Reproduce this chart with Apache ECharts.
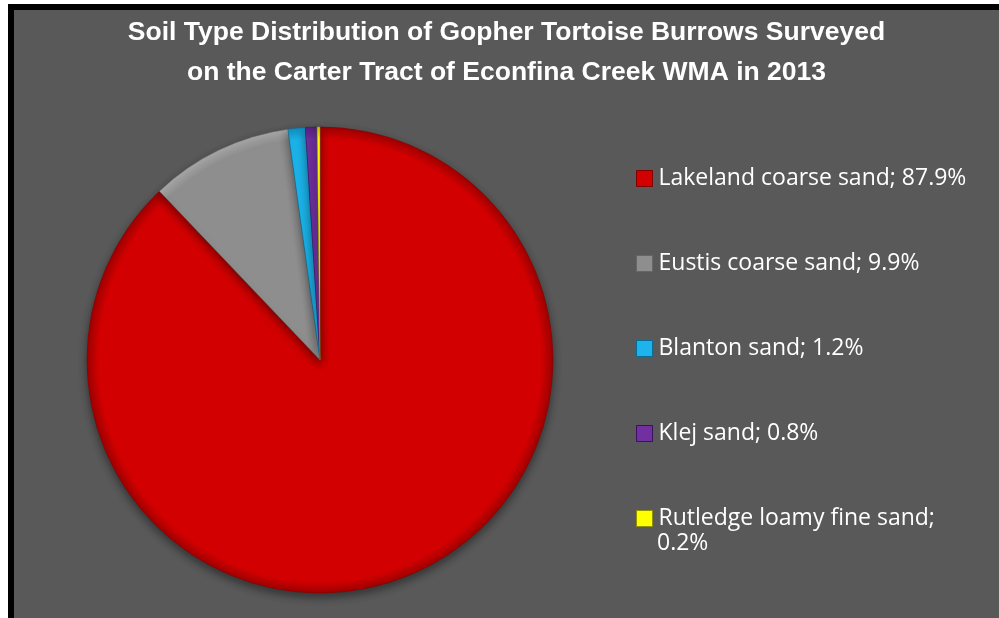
<!DOCTYPE html>
<html>
<head>
<meta charset="utf-8">
<script src="https://cdn.jsdelivr.net/npm/echarts@6/dist/echarts.min.js"></script>
<style>
html,body{margin:0;padding:0;background:#fff;}
#frame{position:absolute;left:8px;top:4px;width:991px;height:614px;background:#000;}
#chart{position:absolute;left:14px;top:10px;width:985px;height:608px;}
</style>
</head>
<body>
<div id="frame"></div>
<div id="chart"></div>
<script>
const titleLines = ['Soil Type Distribution of Gopher Tortoise Burrows Surveyed', 'on the Carter Tract of Econfina Creek WMA in 2013'];
const categories = ['Lakeland coarse sand', 'Eustis coarse sand', 'Blanton sand', 'Klej sand', 'Rutledge loamy fine sand'];
const percents = [87.9, 9.9, 1.2, 0.8, 0.2];
const colors = ['#d20000', '#8e8e8e', '#1cb4ea', '#7030a0', '#ffff00'];
const edgeColors = ['#a00000', '#a8a8a8', '#1090c0', '#552080', '#c0c000'];
const borderColors = ['#800000', '#666666', '#0a6a98', '#3a1060', '#909000'];

const OX = 14, OY = 10; // chart offset in page
const CX = 320, CY = 360, R = 233;
const legendTops = [175, 260, 345, 430, 515];

const chart = echarts.init(document.getElementById('chart'), null, {renderer: 'canvas'});

const legends = categories.map((c, i) => {
  const label = c + '; ' + percents[i].toFixed(1) + '%';
  const isLast = i === categories.length - 1;
  return {
    data: [c],
    orient: 'vertical',
    left: 636 - OX,
    top: legendTops[i] - 8 - OY,
    padding: 0,
    itemWidth: 16,
    itemHeight: 16,
    icon: 'rect',
    selectedMode: false,
    itemStyle: {color: colors[i], borderWidth: 1, borderColor: borderColors[i], shadowBlur: 0, shadowOffsetY: 0},
    formatter: () => isLast ? c + ';' : label,
    textStyle: {color: '#ffffff', fontFamily: 'Open Sans', fontSize: 23, padding: [0, 0, 0, 1]}
  };
});

const option = {
  backgroundColor: '#595959',
  animation: false,
  title: {
    text: titleLines.join('\n'),
    left: 'center',
    top: 13 - OY,
    padding: 0,
    textStyle: {color: '#ffffff', fontFamily: 'Liberation Sans', fontWeight: 'bold', fontSize: 26.5, lineHeight: 40}
  },
  legend: legends,
  graphic: [{
    type: 'text',
    left: 657 - OX,
    top: legendTops[4] + 33 - 16 - OY,
    style: {text: percents[4].toFixed(1) + '%', fill: '#ffffff', font: '23px "Open Sans"'}
  }],
  series: [{
    type: 'pie',
    center: [CX - OX, CY - OY],
    radius: [0, R],
    startAngle: 90,
    clockwise: true,
    label: {show: false},
    labelLine: {show: false},
    data: categories.map((c, i) => ({
      name: c,
      value: percents[i],
      itemStyle: {
        color: {
          type: 'radial', global: true, x: CX - OX, y: CY - OY, r: R,
          colorStops: [{offset: 0, color: colors[i]}, {offset: 0.95, color: colors[i]}, {offset: 1, color: edgeColors[i]}]
        },
        borderColor: borderColors[i],
        borderWidth: 0.5,
        shadowColor: 'rgba(0,0,0,0.45)',
        shadowBlur: 10,
        shadowOffsetY: 4
      }
    }))
  }]
};
chart.setOption(option);
</script>
</body>
</html>
